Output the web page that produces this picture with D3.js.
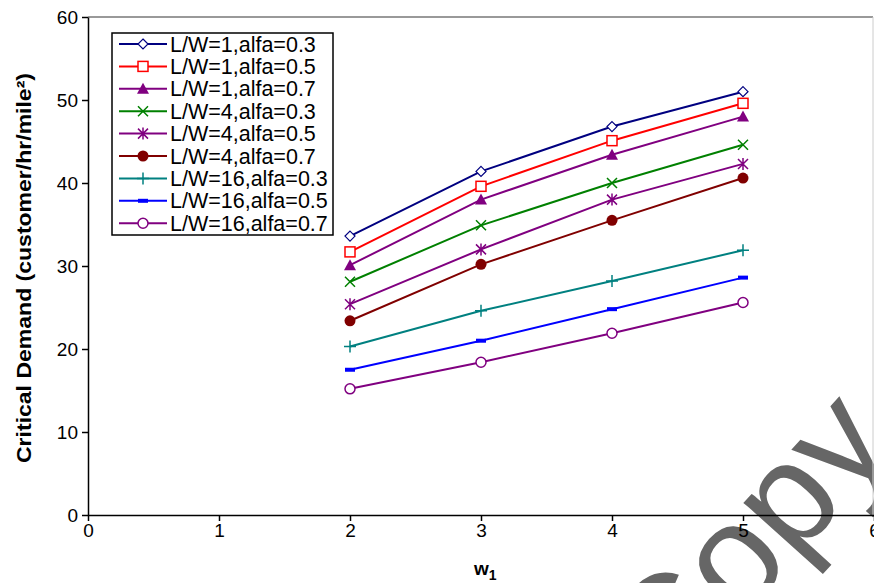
<!DOCTYPE html>
<html lang="en">
<head>
<meta charset="UTF-8">
<title>Critical Demand vs w1</title>
<script src="https://d3js.org/d3.v7.min.js"></script>
<style>
    body { margin: 0; background: #fff; }
    svg { display: block; font-family: "Liberation Sans", Arial, sans-serif; }
    .tick text { font-size: 19px; fill: #000; }
    .axis path, .axis line { stroke: #000; stroke-width: 1.5; }
    .legend-text { font-size: 21.5px; }
</style>
</head>
<body>
<svg id="chart" width="874" height="583"></svg>
<script>
    // data
    const w1 = [2, 3, 4, 5];
    const seriesNames = [
        "L/W=1,alfa=0.3", "L/W=1,alfa=0.5", "L/W=1,alfa=0.7",
        "L/W=4,alfa=0.3", "L/W=4,alfa=0.5", "L/W=4,alfa=0.7",
        "L/W=16,alfa=0.3", "L/W=16,alfa=0.5", "L/W=16,alfa=0.7"
    ];
    const lw1a03 = [33.6, 41.4, 46.8, 51.0];
    const lw1a05 = [31.7, 39.6, 45.1, 49.6];
    const lw1a07 = [30.1, 38.0, 43.4, 48.0];
    const lw4a03 = [28.1, 34.9, 40.0, 44.6];
    const lw4a05 = [25.4, 32.0, 38.0, 42.3];
    const lw4a07 = [23.4, 30.2, 35.5, 40.6];
    const lw16a03 = [20.3, 24.6, 28.2, 31.9];
    const lw16a05 = [17.5, 21.0, 24.8, 28.6];
    const lw16a07 = [15.2, 18.4, 21.9, 25.6];
    const xTicks = [0, 1, 2, 3, 4, 5, 6];
    const yTicks = [0, 10, 20, 30, 40, 50, 60];

    const seriesValues = [lw1a03, lw1a05, lw1a07, lw4a03, lw4a05, lw4a07, lw16a03, lw16a05, lw16a07];
    const colors = ["#000080", "#ff0000", "#800080", "#008000", "#800080", "#800000", "#008080", "#0000ff", "#800080"];
    const markers = ["diamond", "square", "triangle", "x", "star", "dot", "plus", "dash", "circle"];

    const svg = d3.select("#chart");

    const x = d3.scaleLinear().domain([0, 6]).range([88, 874]);
    const y = d3.scaleLinear().domain([0, 60]).range([515, 17]);

    // watermark sits behind everything
    svg.append("text")
        .attr("transform", "translate(670,699) rotate(-48)")
        .attr("font-size", 145)
        .attr("fill", "#666")
        .text("Copy");

    // plot frame (top and right)
    svg.append("line").attr("x1", x(0)).attr("x2", 873).attr("y1", y(60)).attr("y2", y(60))
        .attr("stroke", "#777").attr("stroke-width", 1.5);
    svg.append("line").attr("x1", 873).attr("x2", 873).attr("y1", y(60)).attr("y2", y(0))
        .attr("stroke", "#ccc").attr("stroke-width", 1);

    // axes
    svg.append("g")
        .attr("class", "axis")
        .attr("transform", `translate(${x(0)},0)`)
        .call(d3.axisLeft(y).tickValues(yTicks).tickFormat(d3.format("d"))
            .tickSize(6).tickPadding(4).tickSizeOuter(0));

    svg.append("g")
        .attr("class", "axis")
        .attr("transform", `translate(0,${y(0)})`)
        .call(d3.axisBottom(x).tickValues(xTicks).tickFormat(d3.format("d"))
            .tickSize(6).tickPadding(3).tickSizeOuter(0));

    // axis titles
    svg.append("text")
        .attr("transform", `translate(31,${(y(0) + y(60)) / 2 + 2}) rotate(-90)`)
        .attr("text-anchor", "middle")
        .attr("font-size", 20)
        .attr("font-weight", "bold")
        .attr("textLength", 390)
        .attr("lengthAdjust", "spacingAndGlyphs")
        .text("Critical Demand (customer/hr/mile²)");

    const xt = svg.append("text")
        .attr("x", 474).attr("y", 575)
        .attr("font-size", 19)
        .attr("font-weight", "bold");
    xt.append("tspan").text("w");
    xt.append("tspan").attr("dy", 5).attr("font-size", 14).text("1");

    // marker drawing
    function drawMarker(g, type, cx, cy, color) {
        const s = 5;
        if (type === "diamond") {
            g.append("path").attr("d", `M${cx},${cy - s}L${cx + s},${cy}L${cx},${cy + s}L${cx - s},${cy}Z`)
                .attr("fill", "#fff").attr("stroke", color).attr("stroke-width", 1.2);
        } else if (type === "square") {
            g.append("rect").attr("x", cx - s).attr("y", cy - s).attr("width", 2 * s).attr("height", 2 * s)
                .attr("fill", "#fff").attr("stroke", color).attr("stroke-width", 1.5);
        } else if (type === "triangle") {
            g.append("path").attr("d", `M${cx},${cy - 6}L${cx + 6},${cy + 5}L${cx - 6},${cy + 5}Z`)
                .attr("fill", color);
        } else if (type === "x") {
            g.append("path").attr("d", `M${cx - s},${cy - s}L${cx + s},${cy + s}M${cx - s},${cy + s}L${cx + s},${cy - s}`)
                .attr("stroke", color).attr("stroke-width", 1.5);
        } else if (type === "star") {
            g.append("path").attr("d", `M${cx - s},${cy - s}L${cx + s},${cy + s}M${cx - s},${cy + s}L${cx + s},${cy - s}M${cx},${cy - s - 1}L${cx},${cy + s + 1}`)
                .attr("stroke", color).attr("stroke-width", 1.5);
        } else if (type === "dot") {
            g.append("circle").attr("cx", cx).attr("cy", cy).attr("r", 5.5).attr("fill", color);
        } else if (type === "plus") {
            g.append("path").attr("d", `M${cx - 6},${cy}L${cx + 6},${cy}M${cx},${cy - 6}L${cx},${cy + 6}`)
                .attr("stroke", color).attr("stroke-width", 1.5);
        } else if (type === "dash") {
            g.append("rect").attr("x", cx - 5).attr("y", cy - 2).attr("width", 10).attr("height", 4).attr("fill", color);
        } else if (type === "circle") {
            g.append("circle").attr("cx", cx).attr("cy", cy).attr("r", 5)
                .attr("fill", "#fff").attr("stroke", color).attr("stroke-width", 1.5);
        }
    }

    // series
    const line = d3.line().x(d => x(d[0])).y(d => y(d[1]));
    seriesValues.forEach((vals, i) => {
        const pts = w1.map((w, j) => [w, vals[j]]);
        const g = svg.append("g");
        g.append("path").attr("d", line(pts))
            .attr("fill", "none").attr("stroke", colors[i]).attr("stroke-width", 2);
        pts.forEach(p => drawMarker(g, markers[i], x(p[0]), y(p[1]), colors[i]));
    });

    // legend
    const legend = svg.append("g");
    legend.append("rect").attr("x", 112).attr("y", 33).attr("width", 221).attr("height", 202)
        .attr("fill", "#fff").attr("stroke", "#000").attr("stroke-width", 1.5);
    seriesNames.forEach((name, i) => {
        const cy = 44 + i * 22.4;
        legend.append("line").attr("x1", 119).attr("x2", 167).attr("y1", cy).attr("y2", cy)
            .attr("stroke", colors[i]).attr("stroke-width", 2);
        drawMarker(legend, markers[i], 143, cy, colors[i]);
        legend.append("text").attr("class", "legend-text")
            .attr("x", 170).attr("y", cy + 7.5).text(name);
    });
</script>
</body>
</html>
